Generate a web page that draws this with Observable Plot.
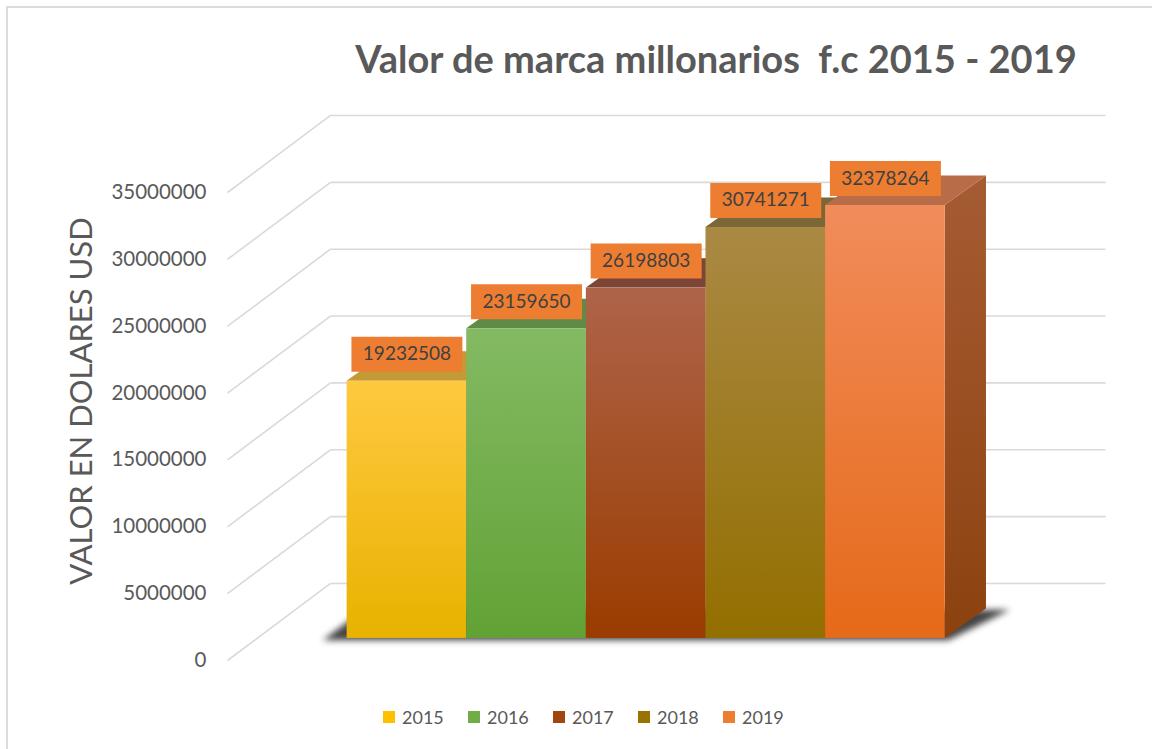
<!DOCTYPE html>
<html>
<head>
<meta charset="utf-8">
<script src="https://cdn.jsdelivr.net/npm/d3@7"></script>
<script src="https://cdn.jsdelivr.net/npm/@observablehq/plot@0.6"></script>
<style>
  body { margin: 0; background: #fff; font-family: Lato, "Open Sans", sans-serif; }
  #wrap { position: relative; width: 1152px; height: 749px; overflow: hidden; background: #fff; }
  #frame { position: absolute; left: 6px; top: 6px; width: 1300px; height: 900px; border: 2px solid #dcdcdc; box-sizing: border-box; }
  #title { position: absolute; left: 216px; width: 1000px; top: 39px; text-align: center; white-space: pre;
           font: 700 38px/38px Lato, sans-serif; color: #595959; }
  #ytitle { position: absolute; left: 80px; top: 401px; transform: translate(-50%, -50%) rotate(-90deg);
            white-space: nowrap; font: 400 31px/31px Lato, sans-serif; color: #595959; }
  #chart { position: absolute; left: 0; top: 100px; }
  .leg { position: absolute; top: 708px; display: flex; align-items: center; font: 400 18px/18px Lato, sans-serif; color: #595959; }
  .leg span.sw { display: inline-block; width: 12px; height: 12px; margin-right: 7px; }
</style>
</head>
<body>
<div id="wrap">
  <div id="frame"></div>
  <div id="title"></div>
  <div id="ytitle"></div>
  <div id="chart"></div>
</div>
<script>
// ---- data ----
const years = ["2015", "2016", "2017", "2018", "2019"];
const values = [19232508, 23159650, 26198803, 30741271, 32378264];
const yTicks = [0, 5000000, 10000000, 15000000, 20000000, 25000000, 30000000, 35000000];
const titleText = "Valor de marca millonarios  f.c 2015 - 2019";
const yTitleText = "VALOR EN DOLARES USD";

// ---- styles ----
const legendColors = ["#ffc000", "#70ad47", "#9e480e", "#997300", "#ed7d31"];
const frontTop    = ["#ffc940", "#83ba63", "#ae644a", "#aa8944", "#f18c5b"];
const frontBottom = ["#e8b200", "#62a235", "#9a3c00", "#936f00", "#e56a19"];
const topColors   = ["#c39a35", "#5f8b46", "#7c4535", "#7b6636", "#b86c47"];
const sideTop = "#a65c33", sideBottom = "#8c420f";

// ---- pseudo-3D geometry (in data units) ----
const DX = 0.861;     // depth shift front plane -> back wall (x units)
const DY = 5760000;   // depth shift front plane -> back wall (value units)
const Y0 = 1650000;   // bar front plane shift
const SX = 0.345, SY = 2200000; // bar depth
const XMIN = -1, XMAX = 6.34;

document.getElementById("title").textContent = titleText;
document.getElementById("ytitle").textContent = yTitleText;

const bars = years.map((year, i) => ({year, i, v: values[i]}));
const sidePts = bars.flatMap(b => [
  {year: b.year, x: b.i + 1, y1: Y0, y2: b.v + Y0},
  {year: b.year, x: b.i + 1 + SX, y1: Y0 + SY, y2: b.v + Y0 + SY}
]);
const topPts = bars.flatMap(b => [
  {year: b.year, i: b.i, y: b.v + Y0, x1: b.i, x2: b.i + 1},
  {year: b.year, i: b.i, y: b.v + Y0 + SY, x1: b.i + SX, x2: b.i + 1 + SX}
]);
const shadowPts = [
  {y: Y0 - 180000, x1: -0.2, x2: years.length + 0.03},
  {y: Y0 + SY - 100000, x1: -0.2 + SX, x2: years.length + SX + 0.2}
];

const boxSymbol = { draw(ctx) { ctx.rect(-55.5, -17.5, 111, 35); } };

const svg = Plot.plot({
  width: 1152,
  height: 580,
  marginLeft: 227,
  marginRight: 1152 - 1105,
  marginTop: 92,
  marginBottom: 20,
  x: {domain: [XMIN, XMAX], axis: null},
  y: {domain: [0, 35000000]},
  color: {type: "identity"},
  style: {fontFamily: "Lato, sans-serif", fontSize: "20.5px", color: "#595959", background: "transparent", overflow: "visible"},
  marks: [
    // back wall gridlines
    Plot.link(yTicks, {x1: XMIN + DX, x2: XMAX, y1: t => t + DY, y2: t => t + DY, stroke: "#d9d9d9", strokeWidth: 1.6}),
    // side wall diagonals
    Plot.link(yTicks, {x1: XMIN, y1: t => t, x2: XMIN + DX, y2: t => t + DY, stroke: "#d9d9d9", strokeWidth: 1.6}),
    Plot.axisY(yTicks, {tickSize: 0, tickPadding: 21, tickFormat: d3.format("d"), label: null, fill: "#595959", fontSize: 20.5}),
    // floor shadow (first area mark)
    Plot.areaX(shadowPts, {y: "y", x1: "x1", x2: "x2", fill: "#303030"}),
    // side faces
    Plot.areaY(sidePts, {x: "x", y1: "y1", y2: "y2", z: "year", fill: () => "url(#gside)"}),
    // top faces
    Plot.areaX(topPts, {y: "y", x1: "x1", x2: "x2", z: "year", fill: d => topColors[d.i]}),
    // front faces
    Plot.rect(bars, {x1: d => d.i, x2: d => d.i + 1, y1: Y0, y2: d => d.v + Y0, fill: d => `url(#gf${d.i})`}),
    // data label boxes and text
    Plot.dot(bars, {x: d => d.i + 0.5, y: d => d.v + Y0, dy: -27, symbol: boxSymbol, fill: "#ed7d31"}),
    Plot.text(bars, {x: d => d.i + 0.5, y: d => d.v + Y0, dy: -27, text: d => String(d.v), fill: "#404040", fontSize: 19})
  ]
});

// gradients
const NS = "http://www.w3.org/2000/svg";
const defs = document.createElementNS(NS, "defs");
function grad(id, c1, c2) {
  const lg = document.createElementNS(NS, "linearGradient");
  lg.setAttribute("id", id);
  lg.setAttribute("x1", "0"); lg.setAttribute("y1", "0");
  lg.setAttribute("x2", "0"); lg.setAttribute("y2", "1");
  [[0, c1], [1, c2]].forEach(([o, c]) => {
    const s = document.createElementNS(NS, "stop");
    s.setAttribute("offset", o);
    s.setAttribute("stop-color", c);
    lg.appendChild(s);
  });
  defs.appendChild(lg);
}
years.forEach((y, i) => grad("gf" + i, frontTop[i], frontBottom[i]));
grad("gside", sideTop, sideBottom);
svg.insertBefore(defs, svg.firstChild);
const sh = svg.querySelector('g[aria-label="area"]');
if (sh) { sh.style.filter = "blur(3px)"; sh.style.opacity = "0.9"; }

document.getElementById("chart").appendChild(svg);

// legend
const wrap = document.getElementById("wrap");
years.forEach((y, i) => {
  const d = document.createElement("div");
  d.className = "leg";
  d.style.left = (383 + i * 85) + "px";
  d.innerHTML = `<span class="sw" style="background:${legendColors[i]}"></span><span>${y}</span>`;
  wrap.appendChild(d);
});
</script>
</body>
</html>
